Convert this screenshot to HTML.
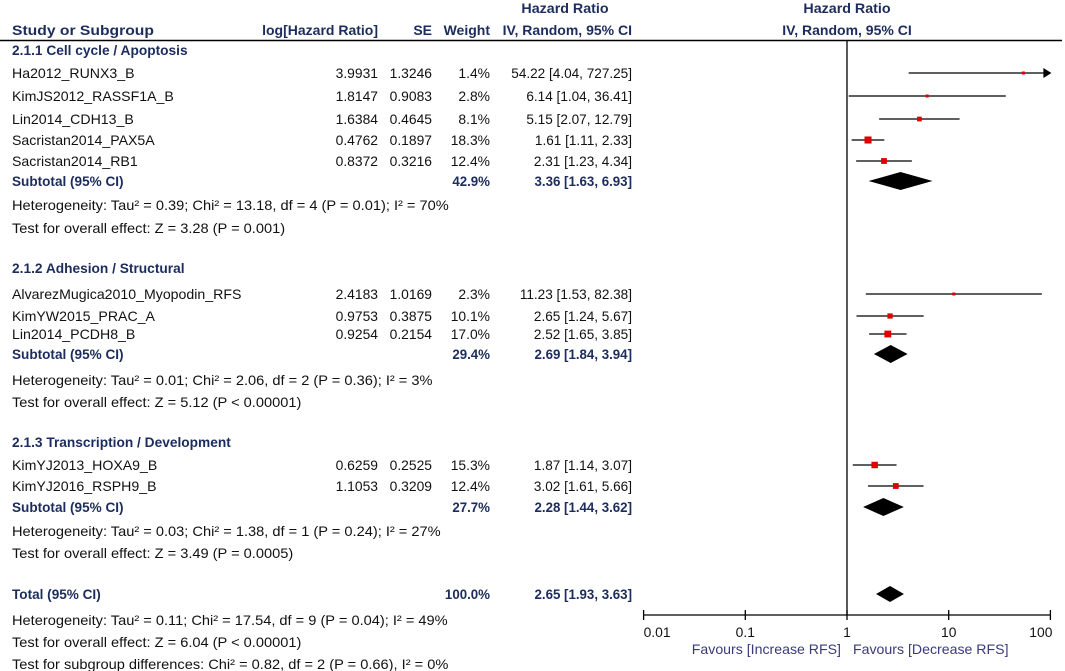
<!DOCTYPE html>
<html><head><meta charset="utf-8"><style>
html,body{margin:0;padding:0;background:#fff}
svg{display:block;font-family:"Liberation Sans",Arial,sans-serif}
</style></head><body>
<svg id="fp" width="1065" height="671" viewBox="0 0 1065 671"></svg>
<script>
const studyNames=["Ha2012_RUNX3_B","KimJS2012_RASSF1A_B","Lin2014_CDH13_B","Sacristan2014_PAX5A","Sacristan2014_RB1","AlvarezMugica2010_Myopodin_RFS","KimYW2015_PRAC_A","Lin2014_PCDH8_B","KimYJ2013_HOXA9_B","KimYJ2016_RSPH9_B"];
const logHR=["3.9931","1.8147","1.6384","0.4762","0.8372","2.4183","0.9753","0.9254","0.6259","1.1053"];
const seVals=["1.3246","0.9083","0.4645","0.1897","0.3216","1.0169","0.3875","0.2154","0.2525","0.3209"];
const weights=[1.4,2.8,8.1,18.3,12.4,2.3,10.1,17.0,15.3,12.4];
const hr=[54.22,6.14,5.15,1.61,2.31,11.23,2.65,2.52,1.87,3.02];
const lo=[4.04,1.04,2.07,1.11,1.23,1.53,1.24,1.65,1.14,1.61];
const hi=[727.25,36.41,12.79,2.33,4.34,82.38,5.67,3.85,3.07,5.66];
const studyRowY=[73,96,119,140,161,294,316,334,465,486];
const subNames=["Subtotal (95% CI)","Subtotal (95% CI)","Subtotal (95% CI)","Total (95% CI)"];
const subW=["42.9%","29.4%","27.7%","100.0%"];
const subHR=[3.36,2.69,2.28,2.65];
const subLo=[1.63,1.84,1.44,1.93];
const subHi=[6.93,3.94,3.62,3.63];
const subY=[181,354,507,594];
const ticks=[0.01,0.1,1,10,100];
const tickLabels=["0.01","0.1","1","10","100"];

const svg=document.getElementById('fp');
const NS='http://www.w3.org/2000/svg';
const X0=847,DEC=101.7,AXY=615,XMIN=0.01,XMAX=100;
function xs(v){v=Math.max(XMIN,Math.min(XMAX,v));return X0+DEC*Math.log10(v);}
function el(tag,attrs){const e=document.createElementNS(NS,tag);for(const k in attrs)e.setAttribute(k,attrs[k]);svg.appendChild(e);return e;}
function txt(x,y,s,anchor,bold,color,name,sc){
  const e=el('text',{transform:`translate(${x},${y}) scale(${sc||0.99},1)`,'text-anchor':anchor||'start','font-size':14,fill:color||'#111','font-weight':bold?'bold':'normal'});
  e.textContent=s;
  
  
  return e;
}
const NAVY='#1c2c5c';
function f2(v){return v.toFixed(2);}
txt(565,13,"Hazard Ratio","middle",true,NAVY,"col-header-hr",1.02);
txt(847,13,"Hazard Ratio","middle",true,NAVY,"plot-header-hr",1.02);
txt(12,35,"Study or Subgroup","start",true,NAVY,"col-header-study",1.12);
txt(378,35,"log[Hazard Ratio]","end",true,NAVY,"col-header-loghr",1.0);
txt(432,35,"SE","end",true,NAVY,"col-header-se",1.0);
txt(490,35,"Weight","end",true,NAVY,"col-header-weight",1.0);
txt(632,35,"IV, Random, 95% CI","end",true,NAVY,"col-header-ci",1.0);
txt(847,35,"IV, Random, 95% CI","middle",true,NAVY,"plot-header-ci",1.0);
let hl=el('line',{x1:0,y1:40.5,x2:1062,y2:40.5,stroke:'#000','stroke-width':1.5});


txt(12,55,"2.1.1 Cell cycle / Apoptosis","start",true,NAVY,"subgroup-heading",0.98);
txt(12,273,"2.1.2 Adhesion / Structural","start",true,NAVY,"subgroup-heading",0.98);
txt(12,447,"2.1.3 Transcription / Development","start",true,NAVY,"subgroup-heading",0.98);
const notes=[[210,"Heterogeneity: Tau² = 0.39; Chi² = 13.18, df = 4 (P = 0.01); I² = 70%"],[233,"Test for overall effect: Z = 3.28 (P = 0.001)"],
[385,"Heterogeneity: Tau² = 0.01; Chi² = 2.06, df = 2 (P = 0.36); I² = 3%"],[407,"Test for overall effect: Z = 5.12 (P < 0.00001)"],
[536,"Heterogeneity: Tau² = 0.03; Chi² = 1.38, df = 1 (P = 0.24); I² = 27%"],[558,"Test for overall effect: Z = 3.49 (P = 0.0005)"],
[625,"Heterogeneity: Tau² = 0.11; Chi² = 17.54, df = 9 (P = 0.04); I² = 49%"],[647,"Test for overall effect: Z = 6.04 (P < 0.00001)"],
[669,"Test for subgroup differences: Chi² = 0.82, df = 2 (P = 0.66), I² = 0%"]];
notes.forEach(n=>txt(12,n[0],n[1],"start",false,'#111',"stat-note",1.045));
let nl=el('line',{x1:X0,y1:40,x2:X0,y2:AXY,stroke:'#000','stroke-width':1.3});


studyNames.forEach((n,i)=>{
  const y=studyRowY[i];
  txt(12,y+5,n,"start",false,'#111',"study-name",1.01);
  txt(378,y+5,logHR[i],"end",false,'#111',"loghr-value",0.99);
  txt(432,y+5,seVals[i],"end",false,'#111',"se-value",0.99);
  txt(490,y+5,weights[i].toFixed(1)+"%","end",false,'#111',"weight-value",0.99);
  txt(632,y+5,`${f2(hr[i])} [${f2(lo[i])}, ${f2(hi[i])}]`,"end",false,'#111',"ci-value",0.97);
  const x1=xs(lo[i]),x2=xs(hi[i]);
  const ln=el('line',{x1:x1,y1:y,x2:hi[i]>XMAX?x2-2:x2,y2:y,stroke:'#000','stroke-width':1.3});
  
  
  if(hi[i]>XMAX){const a=el('path',{d:`M${x2+1},${y} L${x2-7},${y-5} L${x2-7},${y+5} Z`,fill:'#000'});
    
    }
  const s=Math.max(3,1.65*Math.sqrt(weights[i]));
  const r=el('rect',{x:xs(hr[i])-s/2,y:y-s/2,width:s,height:s,fill:'#e00000'});
  
  
});
subNames.forEach((n,i)=>{
  const y=subY[i];
  txt(12,y+5,n,"start",true,NAVY,"subtotal-label",0.97);
  txt(490,y+5,subW[i],"end",true,NAVY,"subtotal-weight",0.95);
  txt(632,y+5,`${f2(subHR[i])} [${f2(subLo[i])}, ${f2(subHi[i])}]`,"end",true,NAVY,"subtotal-ci",0.95);
  const h=i==3?8:9;
  const d=el('path',{d:`M${xs(subLo[i])},${y} L${xs(subHR[i])},${y-h} L${xs(subHi[i])},${y} L${xs(subHR[i])},${y+h} Z`,fill:'#000'});
  
  
});
let ax=el('line',{x1:xs(XMIN),y1:AXY,x2:xs(XMAX),y2:AXY,stroke:'#000','stroke-width':1.3});


ticks.forEach((t,i)=>{
  const x=xs(t);
  const tk=el('line',{x1:x,y1:AXY-5,x2:x,y2:AXY+5,stroke:'#000','stroke-width':1.3});
  
  
  txt(i==0?x:(i==4?x+2:x),637,tickLabels[i],i==0?"start":(i==4?"end":"middle"),false,'#111',"x-tick-label",0.99);
});
txt(841,654,"Favours [Increase RFS]","end",false,'#3a3a7a',"favours-left-label",1.01);
txt(853,654,"Favours [Decrease RFS]","start",false,'#3a3a7a',"favours-right-label",1.01);
</script>
</body></html>
